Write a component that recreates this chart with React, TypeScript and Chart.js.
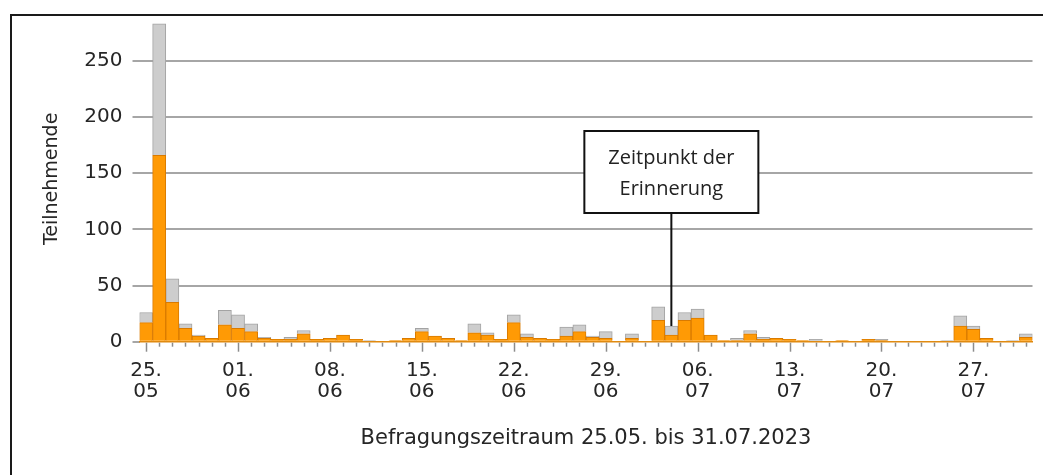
import React, { useEffect, useRef } from "react";
import { Chart, registerables } from "chart.js";

Chart.register(...registerables);

const dates: string[] = [
  "25.05", "26.05", "27.05", "28.05", "29.05", "30.05", "31.05",
  "01.06", "02.06", "03.06", "04.06", "05.06", "06.06", "07.06",
  "08.06", "09.06", "10.06", "11.06", "12.06", "13.06", "14.06",
  "15.06", "16.06", "17.06", "18.06", "19.06", "20.06", "21.06",
  "22.06", "23.06", "24.06", "25.06", "26.06", "27.06", "28.06",
  "29.06", "30.06", "01.07", "02.07", "03.07", "04.07", "05.07",
  "06.07", "07.07", "08.07", "09.07", "10.07", "11.07", "12.07",
  "13.07", "14.07", "15.07", "16.07", "17.07", "18.07", "19.07",
  "20.07", "21.07", "22.07", "23.07", "24.07", "25.07", "26.07",
  "27.07", "28.07", "29.07", "30.07", "31.07",
];

// orange (lower) segment
const orangeValues: number[] = [
  17, 166, 35, 12, 5, 3, 15,
  12, 9, 3, 2, 2, 7, 2,
  3, 6, 2, 0, 0, 1, 3,
  9, 5, 3, 1, 8, 6, 2,
  17, 4, 3, 2, 5, 9, 4,
  3, 0, 3, 0, 19, 6, 19,
  21, 6, 1, 1, 7, 2, 3,
  2, 1, 0, 0, 1, 0, 2,
  1, 0, 0, 0, 0, 0, 14,
  11, 3, 0, 0, 4,
];

// gray (upper) segment
const grayValues: number[] = [
  9, 117, 21, 4, 1, 0, 13,
  12, 7, 1, 0, 2, 3, 0,
  0, 0, 0, 1, 0, 0, 0,
  3, 0, 0, 0, 8, 2, 0,
  7, 3, 0, 0, 8, 6, 1,
  6, 0, 4, 0, 12, 8, 7,
  8, 0, 0, 2, 3, 2, 0,
  0, 0, 2, 0, 0, 0, 0,
  1, 0, 0, 0, 0, 1, 9,
  3, 0, 0, 1, 3,
];

const yTickValues: number[] = [0, 50, 100, 150, 200, 250];
const annotationIndex = 40;
const annotationLines: string[] = ["Zeitpunkt der", "Erinnerung"];
const xTitle = "Befragungszeitraum 25.05. bis 31.07.2023";
const yTitle = "Teilnehmende";

const FONT = "'DejaVu Sans', sans-serif";
const BOX_FONT = "'Open Sans', 'Noto Sans', sans-serif";
const TEXT = "#262626";

const overlayPlugin = {
  id: "overlay",
  afterDraw(chart: any) {
    const { ctx, chartArea, scales } = chart;
    const xs = scales.x;
    const ys = scales.y;
    ctx.save();
    // tick marks under each day
    ctx.strokeStyle = "#8c8c8c";
    ctx.lineWidth = 1.5;
    for (let i = 0; i < dates.length; i++) {
      const x = Math.round(xs.getPixelForValue(i)) + 0.5;
      const len = i % 7 === 0 ? 9 : 4;
      ctx.beginPath();
      ctx.moveTo(x, chartArea.bottom + 1);
      ctx.lineTo(x, chartArea.bottom + 1 + len);
      ctx.stroke();
    }
    // annotation
    const cx = xs.getPixelForValue(annotationIndex);
    const boxW = 174;
    const boxTop = 131;
    const boxBottom = 213;
    const topVal = orangeValues[annotationIndex] + grayValues[annotationIndex];
    const yEnd = ys.getPixelForValue(topVal);
    ctx.strokeStyle = "#111";
    ctx.lineWidth = 2;
    ctx.beginPath();
    ctx.moveTo(cx, boxBottom);
    ctx.lineTo(cx, yEnd);
    ctx.stroke();
    ctx.fillStyle = "#fff";
    ctx.fillRect(cx - boxW / 2, boxTop, boxW, boxBottom - boxTop);
    ctx.strokeRect(cx - boxW / 2, boxTop, boxW, boxBottom - boxTop);
    ctx.fillStyle = "#222";
    ctx.font = `20px ${BOX_FONT}`;
    ctx.textAlign = "center";
    ctx.textBaseline = "middle";
    ctx.fillText(annotationLines[0], cx, 158);
    ctx.fillText(annotationLines[1], cx, 189);
    ctx.restore();
  },
};

export default function App() {
  const ref = useRef<HTMLCanvasElement>(null);
  useEffect(() => {
    if (!ref.current) return;
    const chart = new Chart(ref.current, {
      type: "bar",
      data: {
        labels: dates,
        datasets: [
          {
            label: "orange",
            data: orangeValues,
            backgroundColor: "#ff9a05",
            borderColor: "#d97a00",
            borderWidth: 1,
            categoryPercentage: 1,
            barPercentage: 1,
          },
          {
            label: "gray",
            data: grayValues,
            backgroundColor: "#cdcdcd",
            borderColor: "#a3a3a3",
            borderWidth: 1,
            categoryPercentage: 1,
            barPercentage: 1,
          },
        ],
      },
      options: {
        animation: false,
        responsive: false,
        devicePixelRatio: 1,
        layout: { padding: { top: 16, right: 10.5, bottom: 0, left: 0 } },
        plugins: { legend: { display: false }, tooltip: { enabled: false } },
        scales: {
          x: {
            stacked: true,
            offset: true,
            grid: {
              display: true,
              drawOnChartArea: false,
              drawTicks: true,
              tickLength: 9,
              tickColor: "rgba(0,0,0,0)",
            },
            border: { display: true, color: "#e08a10", width: 1.5 },
            ticks: {
              autoSkip: false,
              maxRotation: 0,
              minRotation: 0,
              padding: 9,
              color: TEXT,
              font: { family: FONT, size: 20, lineHeight: 1.075 },
              callback: (_v: any, i: number) => {
                if (i % 7 !== 0) return "";
                const [d, m] = dates[i].split(".");
                return [d + ".", m];
              },
            },
            title: {
              display: true,
              text: xTitle,
              color: TEXT,
              font: { family: FONT, size: 21, lineHeight: 1.2 },
              padding: { top: 0, bottom: 24 },
            },
            afterFit: (s: any) => {
              s.height = 133.3;
              s.paddingLeft = 0;
              s.paddingRight = 0;
            },
          },
          y: {
            stacked: true,
            min: 0,
            max: 290,
            afterBuildTicks: (s: any) => {
              s.ticks = yTickValues.map((v) => ({ value: v }));
            },
            grid: {
              color: (c: any) => (c.tick && c.tick.value === 0 ? "rgba(0,0,0,0)" : "#a6a6a6"),
              tickColor: "#a6a6a6",
              lineWidth: 2,
              tickLength: 7,
            },
            border: { display: false },
            ticks: {
              padding: 10,
              color: TEXT,
              font: { family: FONT, size: 20 },
            },
            title: {
              display: true,
              text: yTitle,
              color: TEXT,
              font: { family: FONT, size: 19, lineHeight: 1.2 },
              padding: { top: 41, bottom: 0 },
            },
            afterFit: (s: any) => {
              s.width = 139.5;
              s.paddingTop = 0;
              s.paddingBottom = 0;
            },
          },
        },
      },
      plugins: [overlayPlugin],
    });
    return () => chart.destroy();
  }, []);

  return (
    <div style={{ position: "absolute", left: 0, top: 0, width: 1043, height: 475, background: "#fff" }}>
      <canvas ref={ref} width={1043} height={475} style={{ display: "block" }} />
      <div
        style={{
          position: "absolute",
          left: 10,
          top: 14,
          width: 1100,
          height: 500,
          borderTop: "2px solid #1a1a1a",
          borderLeft: "2px solid #1a1a1a",
          pointerEvents: "none",
        }}
      />
    </div>
  );
}
